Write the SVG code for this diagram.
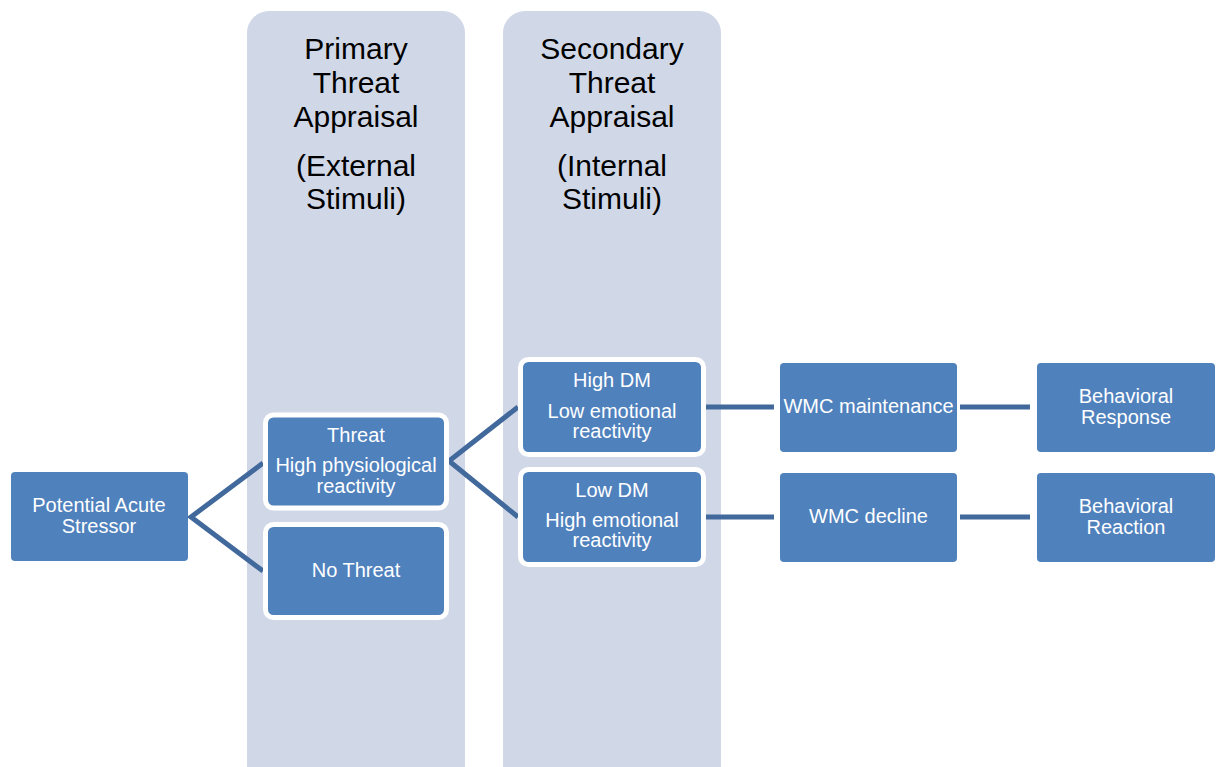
<svg xmlns="http://www.w3.org/2000/svg" width="1221" height="767" viewBox="0 0 1221 767">
<style>
.col{fill:#d0d8e8}
.hdr{font-family:"Liberation Sans",Arial,sans-serif;font-size:30px;fill:#000;text-anchor:middle}
.node{fill:#4f81bd}
.ring{fill:#4f81bd;stroke:#ffffff;stroke-width:5}
.lbl{font-family:"Liberation Sans",Arial,sans-serif;font-size:20px;fill:#ffffff;text-anchor:middle}
.conn{stroke:#41699c;stroke-width:5;fill:none}
</style>
<rect width="1221" height="767" fill="#ffffff"/>
<g id="col-primary">
<rect class="col" x="247" y="11" width="218" height="790" rx="22"/>
<text class="hdr" x="356" y="59">Primary</text>
<text class="hdr" x="356" y="93">Threat</text>
<text class="hdr" x="356" y="127">Appraisal</text>
<text class="hdr" x="356" y="176">(External</text>
<text class="hdr" x="356" y="209">Stimuli)</text>
</g>
<g id="col-secondary">
<rect class="col" x="503" y="11" width="218" height="790" rx="22"/>
<text class="hdr" x="612" y="59">Secondary</text>
<text class="hdr" x="612" y="93">Threat</text>
<text class="hdr" x="612" y="127">Appraisal</text>
<text class="hdr" x="612" y="176">(Internal</text>
<text class="hdr" x="612" y="209">Stimuli)</text>
</g>
<g id="connectors">
<polyline class="conn" points="263,463 191,517 263,571"/>
<polyline class="conn" points="518,407 449,461 518,517"/>
<line class="conn" x1="706" y1="407" x2="774" y2="407"/>
<line class="conn" x1="706" y1="517" x2="774" y2="517"/>
<line class="conn" x1="960" y1="407" x2="1030" y2="407"/>
<line class="conn" x1="960" y1="517" x2="1030" y2="517"/>
</g>
<g id="stressor">
<rect class="node" x="11" y="472" width="177" height="89" rx="4"/>
<text class="lbl" x="99" y="512">Potential Acute</text>
<text class="lbl" x="99" y="533">Stressor</text>
</g>
<g id="threat">
<rect class="ring" x="265.5" y="415" width="181" height="93" rx="8"/>
<text class="lbl" x="356" y="442">Threat</text>
<text class="lbl" x="356" y="472">High physiological</text>
<text class="lbl" x="356" y="493">reactivity</text>
</g>
<g id="no-threat">
<rect class="ring" x="265.5" y="524.5" width="181" height="93" rx="8"/>
<text class="lbl" x="356" y="577">No Threat</text>
</g>
<g id="high-dm">
<rect class="ring" x="520.5" y="359.5" width="183" height="95" rx="8"/>
<text class="lbl" x="612" y="387">High DM</text>
<text class="lbl" x="612" y="418">Low emotional</text>
<text class="lbl" x="612" y="438">reactivity</text>
</g>
<g id="low-dm">
<rect class="ring" x="520.5" y="469.5" width="183" height="95" rx="8"/>
<text class="lbl" x="612" y="497">Low DM</text>
<text class="lbl" x="612" y="527">High emotional</text>
<text class="lbl" x="612" y="547">reactivity</text>
</g>
<g id="wmc-maintenance">
<rect class="node" x="780" y="363" width="177" height="89" rx="4"/>
<text class="lbl" x="868.5" y="413">WMC maintenance</text>
</g>
<g id="wmc-decline">
<rect class="node" x="780" y="473" width="177" height="89" rx="4"/>
<text class="lbl" x="868.5" y="523">WMC decline</text>
</g>
<g id="behavioral-response">
<rect class="node" x="1037" y="363" width="178" height="89" rx="4"/>
<text class="lbl" x="1126" y="403">Behavioral</text>
<text class="lbl" x="1126" y="424">Response</text>
</g>
<g id="behavioral-reaction">
<rect class="node" x="1037" y="473" width="178" height="89" rx="4"/>
<text class="lbl" x="1126" y="513">Behavioral</text>
<text class="lbl" x="1126" y="534">Reaction</text>
</g>
</svg>
